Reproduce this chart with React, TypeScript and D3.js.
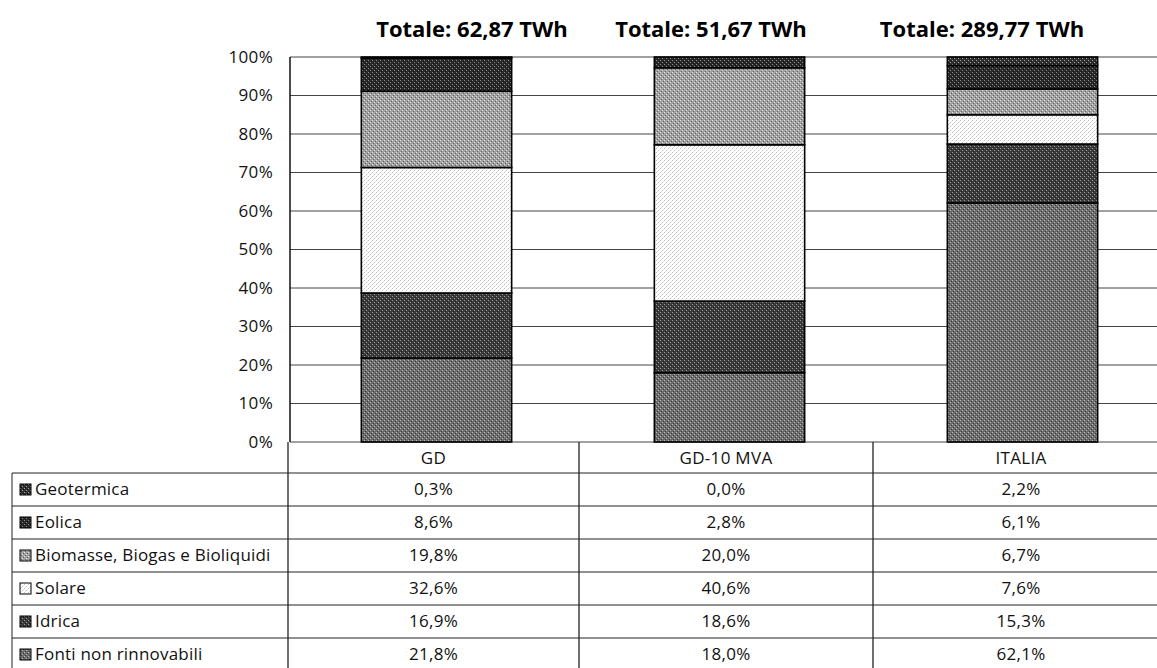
import React from "react";
import * as d3 from "d3";

const categories = ["GD", "GD-10 MVA", "ITALIA"];
const totals = ["Totale: 62,87 TWh", "Totale: 51,67 TWh", "Totale: 289,77 TWh"];
// stacking order bottom -> top
const seriesNames = [
  "Fonti non rinnovabili",
  "Idrica",
  "Solare",
  "Biomasse, Biogas e Bioliquidi",
  "Eolica",
  "Geotermica",
];
const fontiValues = [21.8, 18.0, 62.1];
const idricaValues = [16.9, 18.6, 15.3];
const solareValues = [32.6, 40.6, 7.6];
const biomasseValues = [19.8, 20.0, 6.7];
const eolicaValues = [8.6, 2.8, 6.1];
const geotermicaValues = [0.3, 0.0, 2.2];
const seriesValues = [fontiValues, idricaValues, solareValues, biomasseValues, eolicaValues, geotermicaValues];
const tableOrder = [5, 4, 3, 2, 1, 0]; // table rows top -> bottom
const yTicks = [0, 10, 20, 30, 40, 50, 60, 70, 80, 90, 100];

const patternStyles = [
  { base: "#6e6e6e", dot: "#b4b4b4", dark: "#3a3a3a" },
  { base: "#3c3c3c", dot: "#9a9a9a", dark: "#1e1e1e" },
  { base: "#ffffff", dot: "#bdbdbd", dark: "#e6e6e6" },
  { base: "#a2a2a2", dot: "#e0e0e0", dark: "#606060" },
  { base: "#2a2a2a", dot: "#8a8a8a", dark: "#111111" },
  { base: "#303030", dot: "#a8a8a8", dark: "#141414" },
];

const W = 1157;
const H = 668;
const axisX = 290;
const y0 = 442;
const y100 = 57;
const font = "'Open Sans', Lato, sans-serif";

export default function App() {
  const x = d3
    .scaleBand<string>()
    .domain(categories)
    .range([axisX, axisX + 3 * 293])
    .paddingInner(0.487)
    .paddingOuter(0.2435);
  const y = d3.scaleLinear().domain([0, 100]).range([y0, y100]);
  const fmt = (v: number) => v.toFixed(1).replace(".", ",") + "%";

  const stackData = categories.map((c, i) => {
    const o: any = { cat: c };
    seriesNames.forEach((s, k) => (o[s] = seriesValues[k][i]));
    return o;
  });
  const stacked = d3.stack<any>().keys(seriesNames)(stackData);

  const colBounds = [288, 579, 873, 1169];
  const labelLeft = 12;
  const headerTop = y0;
  const rowH = 33;
  const firstRowTop = 473;

  return (
    <svg width={W} height={H} style={{ position: "absolute", left: 0, top: 0, background: "#fff" }}>
      <defs>
        {patternStyles.map((p, k) => (
          <pattern key={k} id={`pat${k}`} patternUnits="userSpaceOnUse" width={4} height={4}>
            <rect width={4} height={4} fill={p.base} />
            <rect x={0} y={0} width={1} height={1} fill={p.dot} />
            <rect x={2} y={2} width={1} height={1} fill={p.dot} />
            <rect x={3} y={1} width={1} height={1} fill={p.dark} />
            <rect x={1} y={3} width={1} height={1} fill={p.dark} />
          </pattern>
        ))}
      </defs>
      <rect width={W} height={H} fill="#fff" />

      {/* gridlines */}
      {yTicks.map((t) => (
        <line key={t} x1={axisX} x2={W} y1={y(t)} y2={y(t)} stroke="#444" strokeWidth={1} />
      ))}
      {/* y axis */}
      <line x1={axisX} x2={axisX} y1={y100} y2={y0} stroke="#111" strokeWidth={1.5} />
      {yTicks.map((t) => (
        <text
          key={"l" + t}
          x={273}
          y={y(t)}
          dy="0.35em"
          textAnchor="end"
          fontFamily={font}
          fontSize={17}
          letterSpacing={0.3}
          fill="#111"
        >
          {t}%
        </text>
      ))}

      {/* bars */}
      {stacked.map((layer, k) =>
        layer.map((d, i) => {
          const h = y(d[0]) - y(d[1]);
          if (h <= 0) return null;
          return (
            <rect
              key={k + "-" + i}
              x={x(categories[i])!}
              y={y(d[1])}
              width={x.bandwidth()}
              height={h}
              fill={`url(#pat${k})`}
              stroke="#000"
              strokeWidth={1.6}
            />
          );
        })
      )}

      {/* totals */}
      {categories.map((c, i) => (
        <text
          key={"t" + c}
          x={[472, 711, 982][i]}
          y={37}
          textAnchor="middle"
          fontFamily={font}
          fontWeight="bold"
          fontSize={22}
          fill="#000"
        >
          {totals[i]}
        </text>
      ))}

      {/* data table */}
      <g stroke="#222" strokeWidth={1}>
        {d3.range(tableOrder.length + 1).map((r) => (
          <line
            key={"h" + r}
            x1={labelLeft}
            x2={W}
            y1={firstRowTop + r * rowH}
            y2={firstRowTop + r * rowH}
          />
        ))}
        <line x1={labelLeft} x2={labelLeft} y1={firstRowTop} y2={H} />
        {colBounds.slice(0, 3).map((cx, j) => (
          <line key={"v" + j} x1={cx} x2={cx} y1={headerTop} y2={H} strokeWidth={1.3} />
        ))}
      </g>
      {categories.map((c, i) => (
        <text
          key={"hc" + c}
          x={(colBounds[i] + colBounds[i + 1]) / 2}
          y={(headerTop + firstRowTop) / 2 + 1}
          dy="0.35em"
          textAnchor="middle"
          fontFamily={font}
          fontSize={17}
          letterSpacing={0.3}
          fill="#111"
        >
          {c}
        </text>
      ))}
      {tableOrder.map((k, r) => {
        const cy = firstRowTop + r * rowH + rowH / 2;
        return (
          <g key={"row" + k}>
            <rect
              x={20}
              y={cy - 5.5}
              width={11}
              height={11}
              fill={`url(#pat${k})`}
              stroke="#000"
              strokeWidth={1}
            />
            <text x={35} y={cy} dy="0.35em" fontFamily={font} fontSize={17} letterSpacing={0.2} fill="#111">
              {seriesNames[k]}
            </text>
            {categories.map((c, i) => (
              <text
                key={c}
                x={(colBounds[i] + colBounds[i + 1]) / 2}
                y={cy}
                dy="0.35em"
                textAnchor="middle"
                fontFamily={font}
                fontSize={17}
                letterSpacing={0.3}
                fill="#111"
              >
                {fmt(seriesValues[k][i])}
              </text>
            ))}
          </g>
        );
      })}
    </svg>
  );
}
